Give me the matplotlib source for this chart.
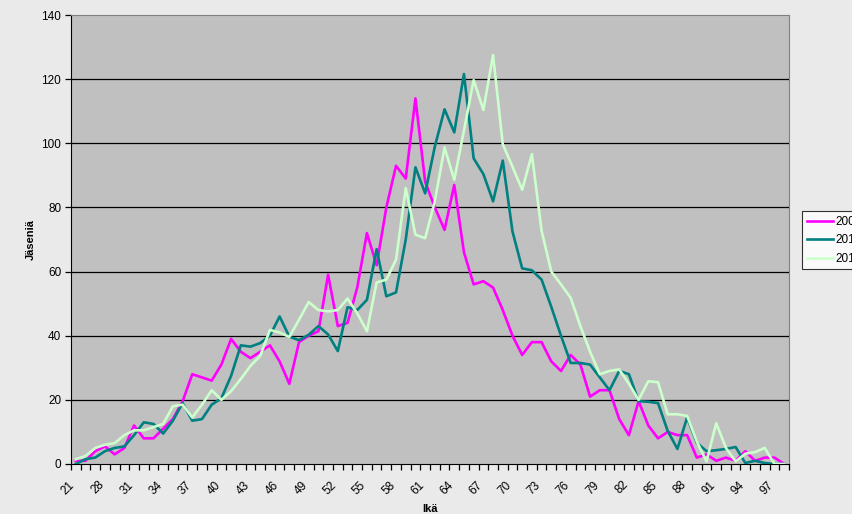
import numpy as np
import matplotlib.pyplot as plt
import matplotlib.transforms as mtransforms

plt.rcParams['font.family'] = ['Liberation Sans', 'DejaVu Sans']

# ages on the x axis (the two after 21 are not labelled in the chart)
ages = ['21', '24', '26'] + [str(a) for a in range(28, 99)]

s2004 = [1, 1, 4, 5.5, 3, 5, 12, 8, 8, 11, 14, 19.5, 28, 27, 26, 31, 39, 35, 33, 35,
         37, 32, 25, 38, 40, 41.4, 59, 43, 44, 55, 72, 62, 80, 93, 89, 114, 88, 80, 73, 87,
         66, 56, 57, 55, 48, 40, 34, 38, 38, 32, 29, 34, 31, 21, 23, 23, 14, 9, 19.6, 12,
         8, 10, 9, 9, 2, 3, 1, 2, 1, 4, 1, 2, 2, 0]
s2010 = [0, 1.5, 2, 4, 5, 5.5, 9, 13, 12.5, 9.5, 13.5, 19, 13.5, 14, 18.5, 20.5, 27.5, 37, 36.6, 37.7,
         40, 46, 39.7, 38.6, 40.3, 43, 40.4, 35.2, 48.9, 48, 51.2, 67, 52.3, 53.5, 70, 92.5, 84.4, 99, 110.6, 103.4,
         121.6, 95.3, 90.4, 81.9, 94.6, 72.5, 61, 60.4, 57.5, 49, 40, 31.5, 31.5, 31, 27, 23, 29, 28, 19.6, 19.4,
         19, 10.3, 4.7, 14.5, 6.6, 4, 4.3, 4.7, 5.3, 0.3, 1, 0.3, 0, 0]
s2014 = [1.5, 2.5, 5, 6, 6.5, 9, 10.5, 10.5, 11.5, 12.5, 18, 18.5, 14.5, 18.5, 23, 20, 22.7, 26.5, 30.6, 33.7,
         41.8, 41, 39.6, 45, 50.5, 48, 47.6, 48, 51.6, 47, 41.4, 56.6, 57.5, 63.7, 86, 71.5, 70.4, 82, 98.7, 88.6,
         104, 119.7, 110.4, 127.5, 99.7, 92.7, 85.5, 96.6, 72.7, 60, 56, 51.8, 43, 35, 28, 29, 29.5, 25, 20, 25.8,
         25.5, 15.5, 15.5, 15, 7, 0.8, 12.7, 5, 0.8, 3.2, 3.7, 5, 0, 0]

x = np.arange(len(ages))

fig = plt.figure(figsize=(8.52, 5.14), dpi=100, facecolor='#EAEAEA')
ax = fig.add_axes([71 / 852, 50 / 514, 718 / 852, 449 / 514])
ax.set_facecolor('#C0C0C0')

for v in range(20, 140, 20):
    ax.axhline(v, color='black', lw=0.9, zorder=1)

ax.plot(x, s2004, color='#FF00FF', lw=1.9, label='2004', zorder=3)
ax.plot(x, s2010, color='#008080', lw=1.9, label='2010', zorder=3)
ax.plot(x, s2014, color='#CCFFCC', lw=1.9, label='2014', zorder=3)

ax.set_xlim(-0.5, len(ages) - 0.5)
ax.set_ylim(0, 140)
ax.set_yticks(range(0, 141, 20))
ax.tick_params(axis='y', labelsize=8.5, length=4, width=0.9, pad=3)

ax.set_xticks(np.arange(-0.5, len(ages), 1), minor=True)
ax.set_xticks(x[::3])
ax.set_xticklabels(ages[::3], rotation=45, ha='right', va='top', rotation_mode='anchor')
ax.tick_params(axis='x', which='major', length=0, labelsize=8.5, pad=10)
ax.tick_params(axis='x', which='minor', length=4, width=0.9)
shift = mtransforms.ScaledTranslation(-7 / 100, -1 / 100, fig.dpi_scale_trans)
for lab in ax.get_xticklabels():
    lab.set_transform(lab.get_transform() + shift)

for side in ['left', 'bottom']:
    ax.spines[side].set_color('black')
for side in ['top', 'right']:
    ax.spines[side].set_color('#808080')

ax.set_xlabel('Ikä', fontsize=8, fontweight='bold', labelpad=5)
ax.set_ylabel('Jäseniä', fontsize=8, fontweight='bold', labelpad=4)

leg = fig.legend(loc='upper left', bbox_to_anchor=(802 / 852, 303 / 514), fontsize=8.5,
                 frameon=True, fancybox=False, edgecolor='black', handlelength=2.2,
                 borderpad=0.4, labelspacing=0.55, handletextpad=0.2, borderaxespad=0)
leg.get_frame().set_linewidth(0.8)

fig.savefig('out.png', dpi=100, facecolor=fig.get_facecolor())
